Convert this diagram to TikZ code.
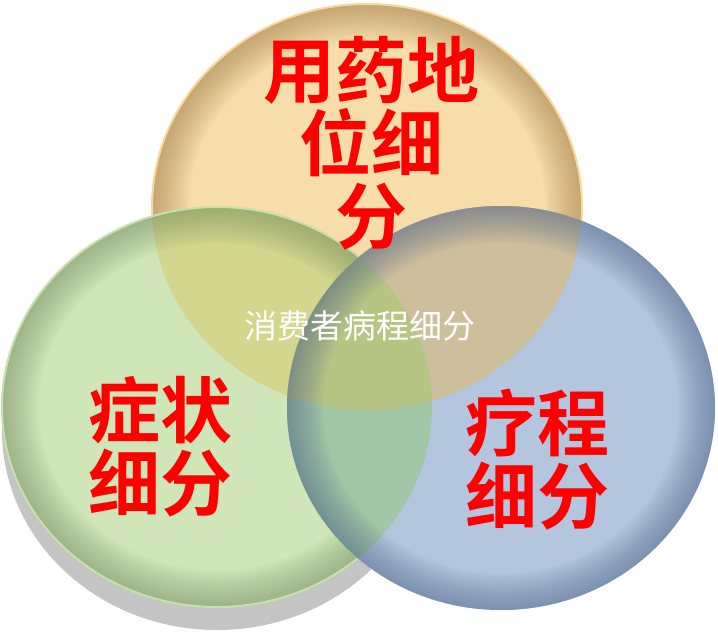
\documentclass[tikz,border=0pt]{standalone}
\usepackage{fontspec}
\usepackage{tikz}
\newfontfamily\cjk{Noto Sans CJK SC}
\newfontfamily\cjkb{Noto Sans CJK SC Bold}
\definecolor{cTop}{HTML}{F6DDAA}
\definecolor{cTopRim}{HTML}{9A7440}
\definecolor{cTopLine}{HTML}{F8D99A}
\definecolor{cGreen}{HTML}{D0E5B8}
\definecolor{cGreenRim}{HTML}{6E8A5C}
\definecolor{cGreenLine}{HTML}{C6E2AA}
\definecolor{cBlue}{HTML}{B3C6DE}
\definecolor{cBlueRim}{HTML}{4A6088}
\definecolor{cTG}{HTML}{D3D68C}
\definecolor{cTB}{HTML}{CDBF9C}
\definecolor{cGB}{HTML}{A2C7A6}
\definecolor{cTGB}{HTML}{B7C584}
\definecolor{shDark}{HTML}{7E7E7E}
\definecolor{shMid}{HTML}{9C9C9C}
\definecolor{shLight}{HTML}{C4C4C4}
% y axis points down, so the shading runs from the top (0bp) to the bottom (100bp)
\pgfdeclareverticalshading{shadowshade}{100bp}{color(0bp)=(shLight); color(84bp)=(shLight); color(93bp)=(shMid); color(100bp)=(shDark)}
% darker rim, built up ring by ring: centre x, centre y, x radius, y radius, colour
\newcommand\rimring[5]{%
  \foreach \k in {1,...,14}
    \fill[#5, fill opacity=0.045, even odd rule] (#1,#2) ellipse [x radius=#3, y radius=#4]
      (#1,#2) ellipse [x radius={#3-2.6*\k}, y radius={#4-2.6*\k}];}
\tikzset{
  circT/.style={insert path={(367,207) ellipse [x radius=215, y radius=203]}},
  circG/.style={insert path={(217,407) ellipse [x radius=215, y radius=200]}},
  circB/.style={insert path={(501,408) ellipse [x radius=214, y radius=202]}},
  bigtxt/.style={text=red, font=\cjkb\fontsize{36}{36.5}\selectfont, align=center, inner sep=0pt},
  midtxt/.style={text=white, font=\cjk\fontsize{16.5}{18}\selectfont, inner sep=0pt},
}
\begin{document}
\begin{tikzpicture}[x=0.5pt, y=-0.5pt]
  \useasboundingbox (0,0) rectangle (718,632);
  \fill[white] (0,0) rectangle (718,632);
  % shadow below the green circle
  \shade[shading=shadowshade] (217,430) ellipse [x radius=215, y radius=200];
  % back: top circle
  \fill[cTop, circT];
  \rimring{367}{207}{215}{203}{cTopRim}
  \draw[cTopLine, line width=1pt, circT];
  % middle: green circle
  \fill[cGreen, circG];
  \begin{scope}
    \clip[circT];
    \fill[cTG, circG];
  \end{scope}
  \rimring{217}{407}{215}{200}{cGreenRim}
  \draw[cGreenLine, line width=1pt, circG];
  % front: blue circle
  \fill[cBlue, circB];
  \begin{scope}
    \clip[circT];
    \fill[cTB, circB];
  \end{scope}
  \begin{scope}
    \clip[circG];
    \fill[cGB, circB];
  \end{scope}
  \begin{scope}
    \clip[circT];
    \clip[circG];
    \fill[cTGB, circB];
  \end{scope}
  \rimring{501}{408}{214}{202}{cBlueRim}
  % labels
  \node[bigtxt] (tLbl) at (371,143) {用药地\\位细\\分};
  \node[bigtxt] (gLbl) at (160,447) {症状\\细分};
  \node[bigtxt] (bLbl) at (537,460) {疗程\\细分};
  \node[midtxt] (cLbl) at (360,326) {消费者病程细分};
\end{tikzpicture}
\end{document}
